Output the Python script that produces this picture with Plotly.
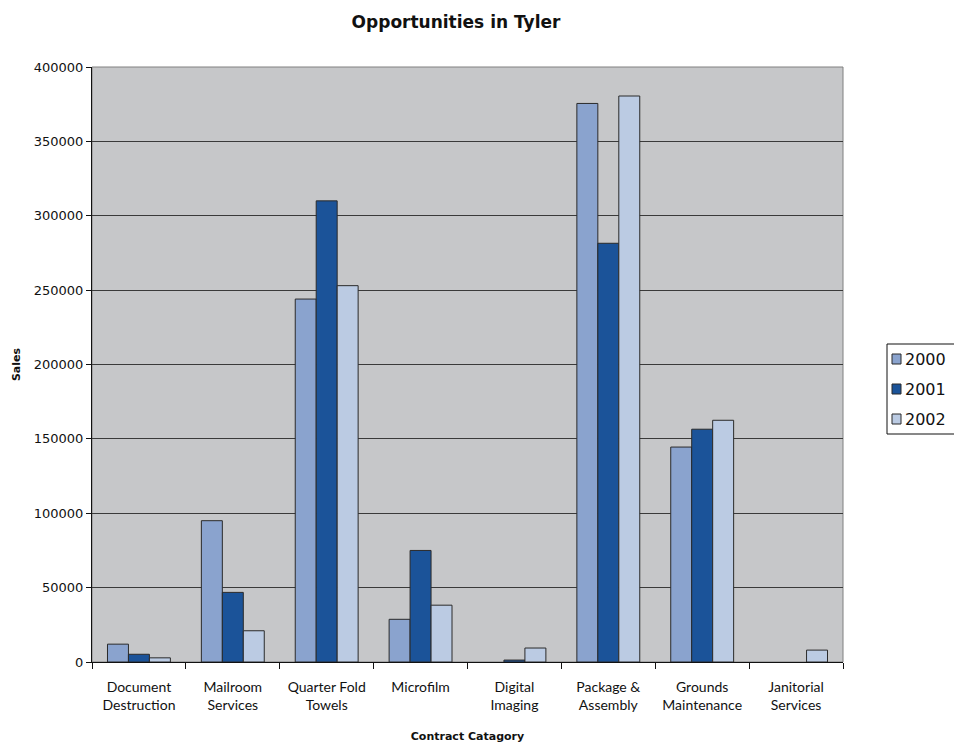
import plotly.graph_objects as go

categories = ["Document<br>Destruction", "Mailroom<br>Services", "Quarter Fold<br>Towels", "Microfilm",
              "Digital<br>Imaging", "Package &<br>Assembly", "Grounds<br>Maintenance", "Janitorial<br>Services"]
years = ["2000", "2001", "2002"]
sales_2000 = [12000, 95000, 244000, 28700, None, 375500, 144500, None]
sales_2001 = [5200, 46800, 310000, 75000, 1300, 281500, 156500, None]
sales_2002 = [2800, 21000, 253000, 38200, 9400, 380500, 162500, 8000]
y_ticks = [0, 50000, 100000, 150000, 200000, 250000, 300000, 350000, 400000]

colors = ["#8AA3CE", "#1B5399", "#BBCBE3"]
series = [sales_2000, sales_2001, sales_2002]

# plot area in pixels
L, R, T, B = 92, 843, 67, 662
W, H = 954, 744

def px_x(px):
    return (px - L) / (R - L)

def px_y(py):
    return (B - py) / (B - T)

fig = go.Figure()
for name, vals, c in zip(years, series, colors):
    fig.add_trace(go.Bar(x=categories, y=vals, name=name, showlegend=False,
                         marker=dict(color=c, line=dict(color="#2a2a2a", width=1))))

fig.update_layout(
    width=W, height=H,
    margin=dict(l=L, r=W - R, t=T, b=H - B, autoexpand=False),
    paper_bgcolor="white", plot_bgcolor="#C6C7C9",
    barmode="group", bargap=0.33, bargroupgap=0,
    title=dict(text="<b>Opportunities in Tyler</b>", x=456 / W, xanchor="center",
               y=1 - 22 / H, yanchor="middle", font=dict(family="DejaVu Sans", size=17, color="#111")),
)
fig.update_xaxes(
    type="category", tickson="boundaries", ticks="outside", ticklen=6, tickcolor="#111",
    showline=True, linecolor="#111", linewidth=1,
    tickfont=dict(family="Lato", size=14, color="#111"),
    tickangle=0,
    ticklabelstandoff=12,
    title=dict(text="<b>Contract Catagory</b>", font=dict(family="DejaVu Sans", size=11, color="#111"), standoff=20),
    showgrid=False,
)
fig.update_yaxes(
    range=[0, 400000], tickvals=y_ticks, ticktext=[str(v) for v in y_ticks],
    ticks="outside", ticklen=5, tickcolor="#111",
    showline=True, linecolor="#111", linewidth=1,
    gridcolor="#3a3a3a", gridwidth=1, zeroline=False,
    tickfont=dict(family="DejaVu Sans", size=13, color="#111"),
    title=dict(text="<b>Sales</b>", font=dict(family="DejaVu Sans", size=11, color="#111"), standoff=10),
)
fig.add_shape(type="rect", xref="paper", yref="paper", x0=0, x1=1, y0=0, y1=1,
              line=dict(color="#808080", width=1), layer="below")

# custom legend (box clipped at the right edge as in the reference)
fig.add_shape(type="rect", xref="paper", yref="paper",
              x0=px_x(887), x1=px_x(960), y0=px_y(434), y1=px_y(344),
              line=dict(color="#111", width=1), fillcolor="white")
item_y = [359, 389, 419]
for name, c, yy in zip(years, colors, item_y):
    fig.add_shape(type="rect", xref="paper", yref="paper",
                  x0=px_x(892), x1=px_x(901), y0=px_y(yy + 5), y1=px_y(yy - 5),
                  line=dict(color="#2a2a2a", width=1), fillcolor=c)
    fig.add_annotation(xref="paper", yref="paper", x=px_x(903), y=px_y(yy),
                       text=name, showarrow=False, xanchor="left", yanchor="middle",
                       font=dict(family="DejaVu Sans", size=16, color="#111"))

fig.write_html("out.html")
